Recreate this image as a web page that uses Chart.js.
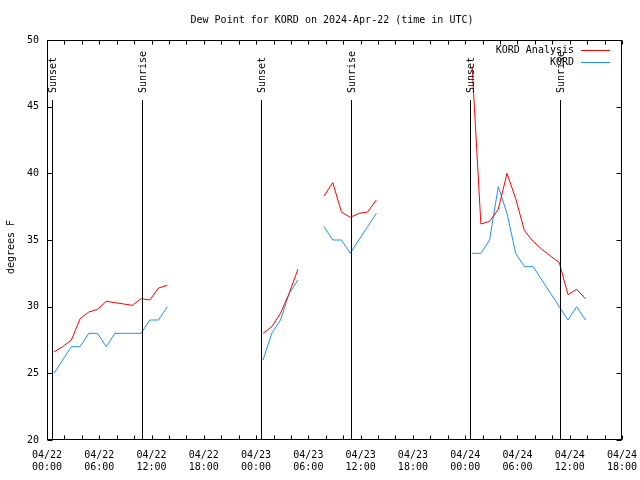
<!DOCTYPE html>
<html>
<head>
<meta charset="utf-8">
<script src="https://cdn.jsdelivr.net/npm/chart.js@4"></script>
<style>
  body { margin: 0; background: #fff; }
  canvas { display: block; }
</style>
</head>
<body>
<canvas id="dewpoint" width="640" height="480"></canvas>
<script>
// hours since 2024-04-22 00:00 UTC; obs land at about :48 past the hour
const obsMinute = 48;
const obsHours = [
  0, 1, 2, 3, 4, 5, 6, 7, 8, 9, 10, 11, 12, 13, 14,
  24, 25, 26, 27, 28, 29,
  31, 32, 33, 34, 35, 36, 37, 38,
  48, 49, 50, 51, 52, 53, 54, 55, 56, 57, 58, 59, 60, 61
];
const analysisDew = [
  26.6, 27.0, 27.5, 29.1, 29.6, 29.8, 30.4, 30.3, 30.2, 30.1, 30.6, 30.5, 31.4, 31.6, null,
  28.0, 28.5, 29.5, 31.0, 32.8, null,
  38.3, 39.3, 37.1, 36.7, 37.0, 37.1, 38.0, null,
  48.0, 36.2, 36.4, 37.3, 40.0, 38.1, 35.7, 34.9, 34.3, 33.8, 33.3, 30.9, 31.3, 30.6
];
const kordDew = [
  25, 26, 27, 27, 28, 28, 27, 28, 28, 28, 28, 29, 29, 30, null,
  26, 28, 29, 31, 32, null,
  36, 35, 35, 34, 35, 36, 37, null,
  34, 34, 35, 39, 37, 34, 33, 33, 32, 31, 30, 29, 30, 29
];
const sunsetHours = [0.55, 24.55, 48.6];
const sunriseHours = [10.95, 34.93, 58.92];
const xTickLabels = [
  ["04/22", "00:00"], ["04/22", "06:00"], ["04/22", "12:00"], ["04/22", "18:00"],
  ["04/23", "00:00"], ["04/23", "06:00"], ["04/23", "12:00"], ["04/23", "18:00"],
  ["04/24", "00:00"], ["04/24", "06:00"], ["04/24", "12:00"], ["04/24", "18:00"]
];

const FONT = '10px "DejaVu Sans Mono"';
const RED = "#ff0000";
const BLUE = "#1e90ff";

const toPoints = (vals) => obsHours.map((h, i) => ({ x: h + obsMinute / 60, y: vals[i] }));

// gnuplot-ish frame: border, inward ticks, sun lines, legend, titles
const frame = {
  id: "frame",
  afterDatasetsDraw(chart) {
    const { ctx, chartArea: a, scales: { x, y } } = chart;
    const L = Math.round(a.left) + 0.5, R = Math.round(a.right) - 0.5;
    const T = Math.round(a.top) + 0.5, B = Math.round(a.bottom) - 0.5;
    ctx.save();
    ctx.strokeStyle = "#000";
    ctx.fillStyle = "#000";
    ctx.lineWidth = 1;
    ctx.font = FONT;

    ctx.beginPath();
    for (let h = 0; h <= 66; h += 2) {
      const px = Math.round(x.getPixelForValue(h)) + 0.5;
      ctx.moveTo(px, B); ctx.lineTo(px, B - 4);
      ctx.moveTo(px, T); ctx.lineTo(px, T + 4);
    }
    for (let v = 20; v <= 50; v += 5) {
      const py = Math.round(y.getPixelForValue(v)) + 0.5;
      ctx.moveTo(L, py); ctx.lineTo(L + 5, py);
      ctx.moveTo(R, py); ctx.lineTo(R - 5, py);
    }
    ctx.stroke();
    ctx.strokeRect(L, T, R - L, B - T);

    const top = Math.round(y.getPixelForValue(45.5));
    const sunLine = (h, text) => {
      const px = Math.round(x.getPixelForValue(h)) + 0.5;
      ctx.beginPath();
      ctx.moveTo(px, top); ctx.lineTo(px, B);
      ctx.stroke();
      ctx.save();
      ctx.translate(px + 1, top - 7);
      ctx.rotate(-Math.PI / 2);
      ctx.textAlign = "left";
      ctx.textBaseline = "middle";
      ctx.fillText(text, 0, 0);
      ctx.restore();
    };
    sunsetHours.forEach(h => sunLine(h, "Sunset"));
    sunriseHours.forEach(h => sunLine(h, "Sunrise"));

    // legend
    ctx.textAlign = "right";
    ctx.textBaseline = "middle";
    const rows = [["KORD Analysis", RED], ["KORD", BLUE]];
    rows.forEach(([name, color], i) => {
      const ly = Math.round(a.top) + 10 + i * 12;
      ctx.fillStyle = "#000";
      ctx.fillText(name, a.right - 48, ly);
      ctx.strokeStyle = color;
      ctx.beginPath();
      ctx.moveTo(a.right - 41, ly + 0.5);
      ctx.lineTo(a.right - 12, ly + 0.5);
      ctx.stroke();
    });

    ctx.fillStyle = "#000";
    ctx.textAlign = "center";
    ctx.fillText("Dew Point for KORD on 2024-Apr-22 (time in UTC)", 332, 20);

    ctx.save();
    ctx.translate(11, 247);
    ctx.rotate(-Math.PI / 2);
    ctx.fillText("degrees F", 0, 0);
    ctx.restore();
    ctx.restore();
  }
};

Chart.defaults.font.family = '"DejaVu Sans Mono"';
Chart.defaults.font.size = 10;
Chart.defaults.color = "#000";

new Chart(document.getElementById("dewpoint"), {
  type: "line",
  data: {
    datasets: [
      {
        label: "KORD Analysis",
        data: toPoints(analysisDew),
        borderColor: RED,
        borderWidth: 1,
        pointRadius: 0,
        tension: 0,
        spanGaps: false
      },
      {
        label: "KORD",
        data: toPoints(kordDew),
        borderColor: BLUE,
        borderWidth: 1,
        pointRadius: 0,
        tension: 0,
        spanGaps: false
      }
    ]
  },
  options: {
    responsive: false,
    animation: false,
    devicePixelRatio: 1,
    layout: { padding: { top: 40, right: 18, left: 0, bottom: 0 } },
    plugins: {
      legend: { display: false },
      title: { display: false },
      tooltip: { enabled: false }
    },
    scales: {
      x: {
        type: "linear",
        min: 0,
        max: 66,
        afterFit: (s) => { s.height = 40; s.paddingLeft = 0; s.paddingRight = 0; },
        grid: { display: false, drawTicks: false },
        border: { display: false },
        ticks: {
          stepSize: 6,
          autoSkip: false,
          maxRotation: 0,
          padding: 9,
          callback: (v, i) => xTickLabels[i]
        }
      },
      y: {
        min: 20,
        max: 50,
        afterFit: (s) => { s.width = 47; s.paddingTop = 0; s.paddingBottom = 0; },
        grid: { display: false, drawTicks: false },
        border: { display: false },
        ticks: { stepSize: 5, padding: 8 }
      }
    }
  },
  plugins: [frame]
});
</script>
</body>
</html>
